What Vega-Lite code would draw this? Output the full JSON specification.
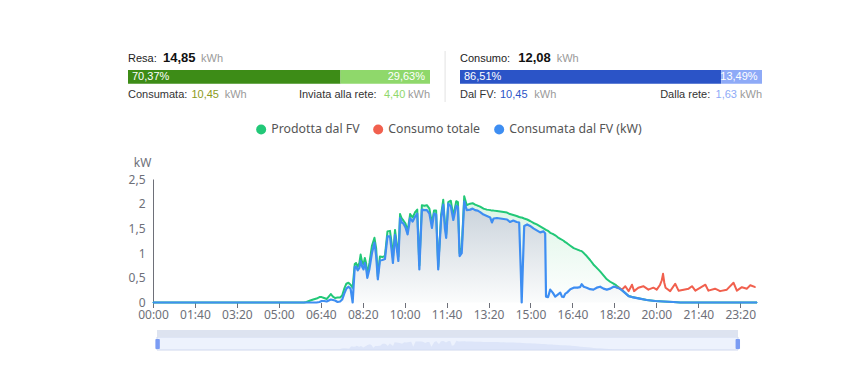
{
"$schema": "https://vega.github.io/schema/vega-lite/v6.json",
"background": "#ffffff",
"padding": {"left": 128, "top": 50, "right": 0, "bottom": 0},
"config": {"view": {"stroke": null}, "text": {"font": "Liberation Sans"}, "axis": {"labelFont": "Noto Sans", "titleFont": "Noto Sans"}, "legend": {"labelFont": "Noto Sans"}},
"datasets": {
"seg": [
{"lato": "Resa", "seg": "Consumata", "pct": 70.37, "lbl": "70,37%"},
{"lato": "Resa", "seg": "Inviata alla rete", "pct": 29.63, "lbl": "29,63%"},
{"lato": "Consumo", "seg": "Dal FV", "pct": 86.51, "lbl": "86,51%"},
{"lato": "Consumo", "seg": "Dalla rete", "pct": 13.49, "lbl": "13,49%"}
],
"info": [
{"lato": "Resa", "titolo": "Resa:", "tot": "14,85", "a": "Consumata:", "av": "10,45", "b": "Inviata alla rete:", "bv": "4,40", "u": "kWh"},
{"lato": "Consumo", "titolo": "Consumo:", "tot": "12,08", "a": "Dal FV:", "av": "10,45", "b": "Dalla rete:", "bv": "1,63", "u": "kWh"}
],
"griglia": [{"kW": 0.5}, {"kW": 1}, {"kW": 1.5}, {"kW": 2}, {"kW": 2.5}],
"kw": [
{"t":0,"P":0,"U":0},{"t":360,"P":0,"U":0},{"t":366,"P":0.01,"U":0},{"t":375,"P":0.04,"U":0},{"t":382,"P":0.06,"U":0},{"t":390,"P":0.08,"U":0},{"t":397,"P":0.11,"U":0.01},{"t":402,"P":0.11,"U":0.03},{"t":408,"P":0.09,"U":0.03},{"t":414,"P":0.07,"U":0.02},{"t":419,"P":0.12,"U":0.04},{"t":424,"P":0.17,"U":0.06},{"t":429,"P":0.12,"U":0.05},{"t":434,"P":0.09,"U":0.04},{"t":440,"P":0.1,"U":0.01},{"t":446,"P":0.1,"U":0.02},{"t":451,"P":0.14,"U":0.06},{"t":456,"P":0.28,"U":0.18},{"t":461,"P":0.38,"U":0.28},{"t":466,"P":0.4,"U":0.32},{"t":471,"P":0.36,"U":0.28},{"t":476,"P":0.3,"U":0},{"t":481,"P":0.78,"U":0.72},{"t":484,"P":0.8,"U":0.73},{"t":488,"P":0.72,"U":0.65},{"t":492,"P":0.8,"U":0.7},{"t":495,"P":0.97,"U":0.84},{"t":499,"P":0.8,"U":0.72},{"t":502,"P":0.77,"U":0.67},{"t":505,"P":0.9,"U":0.8},{"t":508,"P":0.8,"U":0.7},{"t":511,"P":0.56,"U":0.5},{"t":516,"P":0.8,"U":0.68},{"t":522,"P":1.15,"U":1.0},{"t":528,"P":1.31,"U":1.21},{"t":532,"P":1.1,"U":0.95},{"t":536,"P":0.53,"U":0.47},{"t":541,"P":0.93,"U":0.85},{"t":547,"P":0.92,"U":0.86},{"t":553,"P":0.95,"U":0.88},{"t":559,"P":1.44,"U":1.34},{"t":565,"P":1.45,"U":1.34},{"t":569,"P":1.2,"U":1.05},{"t":572,"P":0.9,"U":0.8},{"t":577,"P":1.47,"U":1.37},{"t":581,"P":1.2,"U":1.1},{"t":585,"P":0.93,"U":0.84},{"t":589,"P":1.79,"U":1.71},{"t":593,"P":1.7,"U":1.62},{"t":597,"P":1.66,"U":1.6},{"t":602,"P":1.6,"U":1.52},{"t":607,"P":1.44,"U":1.38},{"t":613,"P":1.79,"U":1.71},{"t":619,"P":1.72,"U":1.64},{"t":625,"P":1.83,"U":1.74},{"t":630,"P":1.88,"U":1.8},{"t":635,"P":0.75,"U":0.67},{"t":641,"P":1.97,"U":1.88},{"t":647,"P":1.96,"U":1.87},{"t":653,"P":1.97,"U":1.87},{"t":659,"P":1.9,"U":1.8},{"t":665,"P":1.6,"U":1.51},{"t":670,"P":1.86,"U":1.8},{"t":675,"P":1.86,"U":1.78},{"t":680,"P":0.72,"U":0.67},{"t":687,"P":1.78,"U":1.71},{"t":692,"P":2.08,"U":1.98},{"t":696,"P":1.6,"U":1.5},{"t":699,"P":1.38,"U":1.31},{"t":704,"P":2.03,"U":2.0},{"t":710,"P":2.06,"U":1.95},{"t":716,"P":1.75,"U":1.67},{"t":723,"P":2.05,"U":1.96},{"t":727,"P":2.03,"U":1.93},{"t":731,"P":1.0,"U":0.94},{"t":736,"P":1.1,"U":1.0},{"t":742,"P":2.15,"U":2.05},{"t":748,"P":1.97,"U":1.87},{"t":756,"P":2.0,"U":1.88},{"t":762,"P":2.01,"U":1.9},{"t":768,"P":1.98,"U":1.87},{"t":774,"P":1.96,"U":1.86},{"t":780,"P":1.94,"U":1.83},{"t":788,"P":1.9,"U":1.78},{"t":796,"P":1.88,"U":1.75},{"t":804,"P":1.87,"U":1.72},{"t":808,"P":1.86,"U":1.62},{"t":812,"P":1.86,"U":1.7},{"t":820,"P":1.85,"U":1.71},{"t":828,"P":1.84,"U":1.7},{"t":836,"P":1.83,"U":1.69},{"t":844,"P":1.82,"U":1.68},{"t":851,"P":1.79,"U":1.63},{"t":859,"P":1.77,"U":1.66},{"t":867,"P":1.75,"U":1.63},{"t":873,"P":1.73,"U":1.62},{"t":877,"P":1.72,"U":0.6},{"t":879,"P":1.72,"U":0},{"t":882,"P":1.71,"U":0.8},{"t":885,"P":1.7,"U":1.55},{"t":892,"P":1.68,"U":1.58},{"t":899,"P":1.65,"U":1.55},{"t":907,"P":1.61,"U":1.5},{"t":915,"P":1.58,"U":1.46},{"t":923,"P":1.54,"U":1.42},{"t":931,"P":1.5,"U":1.44},{"t":935,"P":1.48,"U":1.4},{"t":937,"P":1.47,"U":0.12},{"t":942,"P":1.45,"U":0.11},{"t":947,"P":1.41,"U":0.26},{"t":953,"P":1.39,"U":0.2},{"t":959,"P":1.36,"U":0.12},{"t":965,"P":1.32,"U":0.16},{"t":971,"P":1.29,"U":0.2},{"t":975,"P":1.27,"U":0.12},{"t":979,"P":1.25,"U":0.11},{"t":983,"P":1.22,"U":0.18},{"t":987,"P":1.2,"U":0.2},{"t":995,"P":1.15,"U":0.27},{"t":1003,"P":1.1,"U":0.3},{"t":1012,"P":1.07,"U":0.3},{"t":1018,"P":1.05,"U":0.31},{"t":1022,"P":1.04,"U":0.37},{"t":1027,"P":1.0,"U":0.32},{"t":1034,"P":0.94,"U":0.3},{"t":1042,"P":0.86,"U":0.27},{"t":1050,"P":0.77,"U":0.26},{"t":1058,"P":0.7,"U":0.3},{"t":1066,"P":0.63,"U":0.32},{"t":1074,"P":0.55,"U":0.28},{"t":1082,"P":0.47,"U":0.26},{"t":1090,"P":0.42,"U":0.28},{"t":1098,"P":0.38,"U":0.32},{"t":1104,"P":0.35,"U":0.31,"C":0.31},{"t":1110,"P":0.31,"U":0.29,"C":0.3},{"t":1118,"P":0.25,"U":0.25,"C":0.26},{"t":1126,"P":0.19,"U":0.19,"C":0.33},{"t":1134,"P":0.13,"U":0.13,"C":0.23},{"t":1142,"P":0.11,"U":0.11,"C":0.36},{"t":1147,"C":0.23},{"t":1157,"C":0.3},{"t":1160,"P":0.08,"U":0.08},{"t":1169,"C":0.33},{"t":1177,"P":0.05,"U":0.05},{"t":1181,"C":0.26},{"t":1193,"C":0.3},{"t":1197,"P":0.03,"U":0.03},{"t":1201,"C":0.26},{"t":1209,"C":0.36},{"t":1213,"C":0.45},{"t":1216,"C":0.58},{"t":1217,"P":0.02,"U":0.02},{"t":1219,"C":0.4},{"t":1222,"C":0.3},{"t":1233,"C":0.23},{"t":1240,"P":0.01,"U":0.01},{"t":1245,"C":0.38},{"t":1253,"C":0.24},{"t":1257,"P":0,"U":0},{"t":1265,"C":0.26},{"t":1277,"C":0.28},{"t":1285,"C":0.33},{"t":1293,"C":0.24},{"t":1305,"C":0.3},{"t":1317,"C":0.36},{"t":1324,"C":0.24},{"t":1340,"C":0.28},{"t":1352,"C":0.23},{"t":1368,"C":0.26},{"t":1384,"C":0.4},{"t":1392,"C":0.24},{"t":1404,"C":0.31},{"t":1416,"C":0.28},{"t":1424,"C":0.35},{"t":1436,"C":0.31},{"t":1440,"P":0,"U":0}
]
},
"concat": [
{
"hconcat": [
{
"width": 302, "height": 63,
"layer": [
{"data": {"name": "seg"}, "transform": [{"filter": "datum.lato == 'Resa'"}, {"stack": "pct", "groupby": ["lato"], "sort": [{"field": "pct", "order": "descending"}], "as": ["x0", "x1"]}],
 "mark": {"type": "rect"},
 "encoding": {
  "x": {"field": "x0", "type": "quantitative", "scale": {"domain": [0, 100], "nice": false}, "axis": null},
  "x2": {"field": "x1"},
  "y": {"datum": 31, "type": "quantitative", "scale": {"domain": [-13, 50], "nice": false}, "axis": null},
  "y2": {"datum": 17.3},
  "color": {"field": "seg", "type": "nominal", "scale": {"domain": ["Consumata", "Inviata alla rete", "Dal FV", "Dalla rete"], "range": ["#3d8c17", "#8fd86b", "#2b54c7", "#8eaaf7"]}, "legend": null}}},
{"data": {"name": "seg"}, "transform": [{"filter": "datum.seg == 'Consumata'"}],
 "mark": {"type": "text", "align": "left", "baseline": "middle", "dx": 4, "fontSize": 11, "color": "#ffffff"},
 "encoding": {"x": {"datum": 0}, "y": {"datum": 24}, "text": {"field": "lbl"}}},
{"data": {"name": "seg"}, "transform": [{"filter": "datum.seg == 'Inviata alla rete'"}],
 "mark": {"type": "text", "align": "right", "baseline": "middle", "dx": -5, "fontSize": 11, "color": "#ffffff"},
 "encoding": {"x": {"datum": 100}, "y": {"datum": 24}, "text": {"field": "lbl"}}},
{"data": {"name": "info"}, "transform": [{"filter": "datum.lato == 'Resa'"}],
 "mark": {"type": "text", "align": "left", "baseline": "alphabetic", "fontSize": 11, "color": "#222222"},
 "encoding": {"x": {"datum": 0}, "y": {"datum": 39}, "text": {"field": "titolo"}}},
{"data": {"name": "info"}, "transform": [{"filter": "datum.lato == 'Resa'"}],
 "mark": {"type": "text", "align": "left", "baseline": "alphabetic", "dx": 35, "fontSize": 13, "fontWeight": "bold", "color": "#111111"},
 "encoding": {"x": {"datum": 0}, "y": {"datum": 39}, "text": {"field": "tot"}}},
{"data": {"name": "info"}, "transform": [{"filter": "datum.lato == 'Resa'"}],
 "mark": {"type": "text", "align": "left", "baseline": "alphabetic", "dx": 73, "fontSize": 11, "color": "#9a9a9a"},
 "encoding": {"x": {"datum": 0}, "y": {"datum": 39}, "text": {"field": "u"}}},
{"data": {"name": "info"}, "transform": [{"filter": "datum.lato == 'Resa'"}],
 "mark": {"type": "text", "align": "left", "baseline": "alphabetic", "fontSize": 11, "color": "#333333"},
 "encoding": {"x": {"datum": 0}, "y": {"datum": 2.7}, "text": {"field": "a"}}},
{"data": {"name": "info"}, "transform": [{"filter": "datum.lato == 'Resa'"}],
 "mark": {"type": "text", "align": "left", "baseline": "alphabetic", "dx": 63.4, "fontSize": 11, "color": "#8c9b1c"},
 "encoding": {"x": {"datum": 0}, "y": {"datum": 2.7}, "text": {"field": "av"}}},
{"data": {"name": "info"}, "transform": [{"filter": "datum.lato == 'Resa'"}],
 "mark": {"type": "text", "align": "left", "baseline": "alphabetic", "dx": 96.7, "fontSize": 11, "color": "#9a9a9a"},
 "encoding": {"x": {"datum": 0}, "y": {"datum": 2.7}, "text": {"field": "u"}}},
{"data": {"name": "info"}, "transform": [{"filter": "datum.lato == 'Resa'"}],
 "mark": {"type": "text", "align": "right", "baseline": "alphabetic", "dx": -53.4, "fontSize": 11, "color": "#333333"},
 "encoding": {"x": {"datum": 100}, "y": {"datum": 2.7}, "text": {"field": "b"}}},
{"data": {"name": "info"}, "transform": [{"filter": "datum.lato == 'Resa'"}],
 "mark": {"type": "text", "align": "right", "baseline": "alphabetic", "dx": -24.7, "fontSize": 11, "color": "#8fd86b"},
 "encoding": {"x": {"datum": 100}, "y": {"datum": 2.7}, "text": {"field": "bv"}}},
{"data": {"name": "info"}, "transform": [{"filter": "datum.lato == 'Resa'"}],
 "mark": {"type": "text", "align": "right", "baseline": "alphabetic", "fontSize": 11, "color": "#9a9a9a"},
 "encoding": {"x": {"datum": 100}, "y": {"datum": 2.7}, "text": {"field": "u"}}},
{"data": {"values": [{}]},
 "mark": {"type": "rule", "color": "#e2e2e2", "strokeWidth": 1},
 "encoding": {"x": {"datum": 105}, "y": {"datum": 50}, "y2": {"datum": -1}}}
]
},
{
"width": 302, "height": 63,
"layer": [
{"data": {"name": "seg"}, "transform": [{"filter": "datum.lato == 'Consumo'"}, {"stack": "pct", "groupby": ["lato"], "sort": [{"field": "pct", "order": "descending"}], "as": ["x0", "x1"]}],
 "mark": {"type": "rect"},
 "encoding": {
  "x": {"field": "x0", "type": "quantitative", "scale": {"domain": [0, 100], "nice": false}, "axis": null},
  "x2": {"field": "x1"},
  "y": {"datum": 31, "type": "quantitative", "scale": {"domain": [-13, 50], "nice": false}, "axis": null},
  "y2": {"datum": 17.3},
  "color": {"field": "seg", "type": "nominal", "scale": {"domain": ["Consumata", "Inviata alla rete", "Dal FV", "Dalla rete"], "range": ["#3d8c17", "#8fd86b", "#2b54c7", "#8eaaf7"]}, "legend": null}}},
{"data": {"name": "seg"}, "transform": [{"filter": "datum.seg == 'Dal FV'"}],
 "mark": {"type": "text", "align": "left", "baseline": "middle", "dx": 4, "fontSize": 11, "color": "#ffffff"},
 "encoding": {"x": {"datum": 0}, "y": {"datum": 24}, "text": {"field": "lbl"}}},
{"data": {"name": "seg"}, "transform": [{"filter": "datum.seg == 'Dalla rete'"}],
 "mark": {"type": "text", "align": "right", "baseline": "middle", "dx": -4.4, "fontSize": 11, "color": "#ffffff"},
 "encoding": {"x": {"datum": 100}, "y": {"datum": 24}, "text": {"field": "lbl"}}},
{"data": {"name": "info"}, "transform": [{"filter": "datum.lato == 'Consumo'"}],
 "mark": {"type": "text", "align": "left", "baseline": "alphabetic", "fontSize": 11, "color": "#222222"},
 "encoding": {"x": {"datum": 0}, "y": {"datum": 39}, "text": {"field": "titolo"}}},
{"data": {"name": "info"}, "transform": [{"filter": "datum.lato == 'Consumo'"}],
 "mark": {"type": "text", "align": "left", "baseline": "alphabetic", "dx": 58.3, "fontSize": 13, "fontWeight": "bold", "color": "#111111"},
 "encoding": {"x": {"datum": 0}, "y": {"datum": 39}, "text": {"field": "tot"}}},
{"data": {"name": "info"}, "transform": [{"filter": "datum.lato == 'Consumo'"}],
 "mark": {"type": "text", "align": "left", "baseline": "alphabetic", "dx": 96.7, "fontSize": 11, "color": "#9a9a9a"},
 "encoding": {"x": {"datum": 0}, "y": {"datum": 39}, "text": {"field": "u"}}},
{"data": {"name": "info"}, "transform": [{"filter": "datum.lato == 'Consumo'"}],
 "mark": {"type": "text", "align": "left", "baseline": "alphabetic", "fontSize": 11, "color": "#333333"},
 "encoding": {"x": {"datum": 0}, "y": {"datum": 2.7}, "text": {"field": "a"}}},
{"data": {"name": "info"}, "transform": [{"filter": "datum.lato == 'Consumo'"}],
 "mark": {"type": "text", "align": "left", "baseline": "alphabetic", "dx": 40, "fontSize": 11, "color": "#2b54c7"},
 "encoding": {"x": {"datum": 0}, "y": {"datum": 2.7}, "text": {"field": "av"}}},
{"data": {"name": "info"}, "transform": [{"filter": "datum.lato == 'Consumo'"}],
 "mark": {"type": "text", "align": "left", "baseline": "alphabetic", "dx": 74.3, "fontSize": 11, "color": "#9a9a9a"},
 "encoding": {"x": {"datum": 0}, "y": {"datum": 2.7}, "text": {"field": "u"}}},
{"data": {"name": "info"}, "transform": [{"filter": "datum.lato == 'Consumo'"}],
 "mark": {"type": "text", "align": "right", "baseline": "alphabetic", "dx": -51.7, "fontSize": 11, "color": "#333333"},
 "encoding": {"x": {"datum": 100}, "y": {"datum": 2.7}, "text": {"field": "b"}}},
{"data": {"name": "info"}, "transform": [{"filter": "datum.lato == 'Consumo'"}],
 "mark": {"type": "text", "align": "right", "baseline": "alphabetic", "dx": -25, "fontSize": 11, "color": "#8eaaf7"},
 "encoding": {"x": {"datum": 100}, "y": {"datum": 2.7}, "text": {"field": "bv"}}},
{"data": {"name": "info"}, "transform": [{"filter": "datum.lato == 'Consumo'"}],
 "mark": {"type": "text", "align": "right", "baseline": "alphabetic", "fontSize": 11, "color": "#9a9a9a"},
 "encoding": {"x": {"datum": 100}, "y": {"datum": 2.7}, "text": {"field": "u"}}}
]
}
],
"spacing": 14
},
{
"width": 629, "height": 123.5,
"data": {"name": "kw"},
"transform": [{"fold": ["P", "C", "U"], "as": ["serie", "kW"]}, {"filter": "isValid(datum.kW)"}],
"encoding": {
 "x": {"field": "t", "type": "quantitative", "scale": {"domain": [-59.6, 1440], "nice": false, "zero": false},
  "axis": {"values": [0, 100, 200, 300, 400, 500, 600, 700, 800, 900, 1000, 1100, 1200, 1300, 1400],
   "labelExpr": "pad(toString(floor(datum.value/60)),2,'0','left') + ':' + pad(toString(datum.value%60),2,'0','left')",
   "title": null, "grid": false, "domain": false, "tickColor": "#6e7079", "tickSize": 5, "labelColor": "#6e7079", "labelFontSize": 12, "labelPadding": 2, "labelFlush": false}},
 "y": {"field": "kW", "type": "quantitative", "scale": {"domain": [0, 2.5], "nice": false},
  "axis": {"values": [0, 0.5, 1, 1.5, 2, 2.5], "labelExpr": "replace(toString(datum.value), '.', ',')", "offset": -25,
   "title": "kW", "titleAngle": 0, "titleX": -11, "titleY": -13, "titleAlign": "center", "titleBaseline": "alphabetic", "titleFontWeight": "normal", "titleFontSize": 12, "titleColor": "#6e7079",
   "ticks": false, "labelPadding": 8, "grid": false, "domainColor": "#6e7079", "labelColor": "#6e7079", "labelFontSize": 12}}
},
"layer": [
 {"data": {"name": "griglia"}, "mark": {"type": "rule", "color": "#e0e6f1", "strokeDash": [5, 4], "strokeWidth": 1},
  "encoding": {"x": {"datum": 0}, "x2": {"datum": 1440}, "y": {"field": "kW", "type": "quantitative"}}},
 {"transform": [{"filter": "datum.serie == 'P'"}],
  "mark": {"type": "area", "color": {"gradient": "linear", "x1": 0, "y1": 0, "x2": 0, "y2": 1, "stops": [{"offset": 0, "color": "#d9f4e4"}, {"offset": 1, "color": "#ffffff"}]}}},
 {"transform": [{"filter": "datum.serie == 'U'"}],
  "mark": {"type": "area", "color": {"gradient": "linear", "x1": 0, "y1": 0, "x2": 0, "y2": 1, "stops": [{"offset": 0, "color": "#c8d1da"}, {"offset": 1, "color": "#fbfcfc"}]}}},
 {"data": {"values": [{}]}, "mark": {"type": "rule", "color": "#6e7079", "strokeWidth": 1},
  "encoding": {"x": {"datum": 0}, "x2": {"datum": 1440}, "y": {"datum": 0}}},
 {"mark": {"type": "circle", "size": 1, "opacity": 1},
  "encoding": {"color": {"field": "serie", "type": "nominal",
   "scale": {"domain": ["P", "C", "U"], "range": ["#22c878", "#f1604e", "#3e8ef2"]},
   "legend": {"orient": "none", "legendX": 127, "legendY": -56, "direction": "horizontal", "title": null,
    "symbolType": "circle", "symbolSize": 100, "symbolStrokeWidth": 0, "symbolOpacity": 1, "labelFontSize": 12.3, "labelColor": "#555555", "columnPadding": 12, "labelOffset": 4, "padding": 0,
    "labelExpr": "datum.value == 'P' ? 'Prodotta dal FV' : datum.value == 'C' ? 'Consumo totale' : 'Consumata dal FV (kW)'"}}}},
 {"transform": [{"filter": "datum.serie == 'P'"}], "mark": {"type": "line", "strokeWidth": 2, "strokeJoin": "round"},
  "encoding": {"color": {"field": "serie", "type": "nominal", "legend": null}}},
 {"transform": [{"filter": "datum.serie == 'C'"}], "mark": {"type": "line", "strokeWidth": 2, "strokeJoin": "round"},
  "encoding": {"color": {"field": "serie", "type": "nominal", "legend": null}}},
 {"transform": [{"filter": "datum.serie == 'U'"}], "mark": {"type": "line", "strokeWidth": 2.2, "strokeJoin": "round"},
  "encoding": {"color": {"field": "serie", "type": "nominal", "legend": null}}}
]
},
{
"width": 610, "height": 20,
"layer": [
 {"data": {"values": [{}]}, "mark": {"type": "rect", "fill": "#edf2fd", "stroke": "#cfd8ee", "strokeWidth": 1},
  "encoding": {"x": {"datum": 0, "type": "quantitative", "scale": {"domain": [-71.88, 1440], "nice": false, "zero": false}, "axis": null}, "x2": {"datum": 1440},
   "y": {"datum": 0, "type": "quantitative", "scale": {"domain": [0, 20], "nice": false}, "axis": null}, "y2": {"datum": 13}}},
 {"data": {"values": [{}]}, "mark": {"type": "rect", "fill": "#dde3f0"},
  "encoding": {"x": {"datum": 0}, "x2": {"datum": 1440}, "y": {"datum": 13, "type": "quantitative", "scale": {"domain": [0, 20], "nice": false}, "axis": null}, "y2": {"datum": 20}}},
 {"data": {"name": "kw"}, "transform": [{"filter": "isValid(datum.P)"}],
  "mark": {"type": "area", "color": "#d6dff6", "opacity": 0.7},
  "encoding": {"x": {"field": "t", "type": "quantitative"}, "y": {"field": "P", "type": "quantitative", "scale": {"domain": [0, 4.6], "nice": false}, "axis": null}}},
 {"data": {"values": [{}]}, "mark": {"type": "rect", "fill": "#7b9cf3", "cornerRadius": 1},
  "encoding": {"x": {"datum": -4}, "x2": {"datum": 7}, "y": {"datum": 1, "type": "quantitative", "scale": {"domain": [0, 20], "nice": false}, "axis": null}, "y2": {"datum": 11}}},
 {"data": {"values": [{}]}, "mark": {"type": "rect", "fill": "#7b9cf3", "cornerRadius": 1},
  "encoding": {"x": {"datum": 1434}, "x2": {"datum": 1445}, "y": {"datum": 1, "type": "quantitative", "scale": {"domain": [0, 20], "nice": false}, "axis": null}, "y2": {"datum": 11}}}
],
"resolve": {"scale": {"y": "independent"}}
}
],
"columns": 1,
"align": "none",
"spacing": 9,
"resolve": {"scale": {"color": "independent"}}
}
